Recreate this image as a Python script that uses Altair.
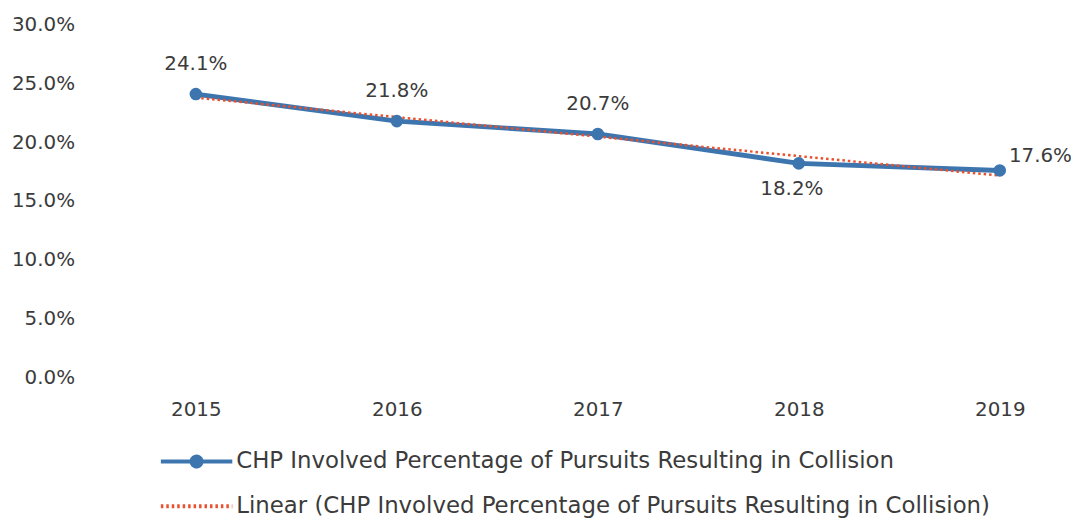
import altair as alt
import pandas as pd

years = [2015, 2016, 2017, 2018, 2019]
values = [0.241, 0.218, 0.207, 0.182, 0.176]
series_main = "CHP Involved Percentage of Pursuits Resulting in Collision"
series_trend = "Linear (CHP Involved Percentage of Pursuits Resulting in Collision)"
y_ticks = [0.0, 0.05, 0.10, 0.15, 0.20, 0.25, 0.30]
above_years = [2015, 2016, 2017]
below_years = [2018]
right_years = [2019]

df = pd.DataFrame({"year": years, "value": values})

BLUE = "#3d75ae"
RED = "#e9502d"
TEXT = "#3b3b3b"
FONT = "DejaVu Sans"
FS = 20

x_enc = alt.X(
    "year:Q",
    scale=alt.Scale(domain=[2014.5, 2019.31], nice=False, zero=False),
    axis=alt.Axis(values=years, format="d", title=None, labelPadding=23),
)
y_enc = alt.Y(
    "value:Q",
    scale=alt.Scale(domain=[0, 0.30], nice=False),
    axis=alt.Axis(values=y_ticks, format=".1%", title=None, labelPadding=21),
)

base = alt.Chart(df)

line = base.mark_line(color=BLUE, strokeWidth=5).encode(x=x_enc, y=y_enc)
pts = base.mark_circle(color=BLUE, size=160, opacity=1).encode(x=x_enc, y=y_enc)
trend = (
    base.transform_regression("year", "value")
    .mark_line(color=RED, strokeWidth=2.5, strokeDash=[2.5, 3])
    .encode(x=x_enc, y=y_enc)
)

txt = dict(font=FONT, fontSize=FS, color=TEXT)
lab_above = (
    base.transform_filter(alt.FieldOneOfPredicate(field="year", oneOf=above_years))
    .mark_text(dy=-30, **txt)
    .encode(x=x_enc, y=y_enc, text=alt.Text("value:Q", format=".1%"))
)
lab_below = (
    base.transform_filter(alt.FieldOneOfPredicate(field="year", oneOf=below_years))
    .mark_text(dy=26, dx=-7, **txt)
    .encode(x=x_enc, y=y_enc, text=alt.Text("value:Q", format=".1%"))
)
lab_right = (
    base.transform_filter(alt.FieldOneOfPredicate(field="year", oneOf=right_years))
    .mark_text(dy=-15, dx=41, **txt)
    .encode(x=x_enc, y=y_enc, text=alt.Text("value:Q", format=".1%"))
)

series_domain = [series_main, series_trend]
path_main = ("M-3.6,0H3.6M0.5,0A0.5,0.5,0,1,1,-0.5,0A0.5,0.5,0,1,1,0.5,0"
             "M0.2,0A0.2,0.2,0,1,1,-0.2,0A0.2,0.2,0,1,1,0.2,0")
path_trend = "M-3.6,0H3.6"

leg_df = pd.DataFrame({"series": pd.Series([], dtype="object")})
legend_layer = alt.Chart(leg_df).mark_point(filled=False, opacity=1).encode(
    color=alt.Color("series:N", scale=alt.Scale(domain=series_domain, range=[BLUE, RED]), title=None),
    shape=alt.Shape("series:N", scale=alt.Scale(domain=series_domain, range=[path_main, path_trend]), title=None),
    strokeDash=alt.StrokeDash("series:N", scale=alt.Scale(domain=series_domain, range=[[1, 0], [2.5, 3]]), title=None),
)

chart = (
    alt.layer(line, trend, pts, lab_above, lab_below, lab_right, legend_layer)
    .properties(
        width=974,
        height=355,
        padding={"left": 88, "top": 15, "right": 9, "bottom": 141},
        autosize=alt.AutoSizeParams(type="none"),
        background="white",
    )
    .configure_view(stroke=None)
    .configure_axis(grid=False, domain=False, ticks=False, labelFont=FONT,
                    labelFontSize=FS, labelColor=TEXT)
    .configure_legend(
        orient="none", legendX=90, legendY=428, direction="vertical",
        labelFont=FONT, labelFontSize=23, labelColor=TEXT, labelLimit=2000,
        symbolSize=400, symbolStrokeWidth=4, rowPadding=20, labelOffset=28,
        padding=0, symbolOpacity=1,
    )
)

chart.save("out.html", embed_options={"renderer": "svg", "actions": False})
